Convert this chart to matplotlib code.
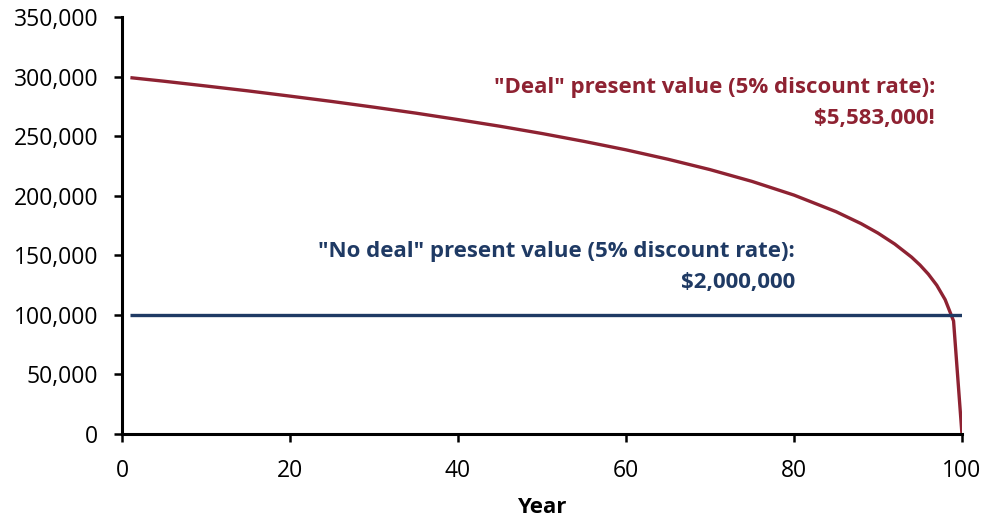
import matplotlib.pyplot as plt
from matplotlib.ticker import FuncFormatter

plt.rcParams['font.family'] = ['Open Sans', 'DejaVu Sans']

# yearly payment values
deal_years = [1, 5, 10, 15, 20, 25, 30, 35, 40, 45, 50, 55, 60, 65, 70, 75, 80,
              85, 88, 90, 92, 94, 95, 96, 97, 98, 99, 100]
deal_values = [299200, 296200, 292200, 288100, 283700, 279200, 274400, 269400,
               264000, 258400, 252300, 245700, 238600, 230700, 222000, 212100,
               200600, 186700, 176600, 168700, 159500, 148500, 141900, 134200,
               124900, 112800, 94900, 0]
nodeal_years = [1, 100]
nodeal_values = [100000, 100000]

red = "#8E2232"
blue = "#1F3A64"

fig = plt.figure(figsize=(9.84, 5.2), dpi=100)
ax = fig.add_axes([0.124, 0.1654, 0.8536, 0.8016])

ax.plot(deal_years, deal_values, color=red, lw=2.4, solid_capstyle="butt")
ax.plot(nodeal_years, nodeal_values, color=blue, lw=2.4, solid_capstyle="butt")

ax.set_xlim(0, 100)
ax.set_ylim(0, 350000)
ax.set_xticks(range(0, 101, 20))
ax.set_yticks(range(0, 350001, 50000))
ax.yaxis.set_major_formatter(FuncFormatter(lambda v, p: f"{int(v):,}"))

for s in ["top", "right"]:
    ax.spines[s].set_visible(False)
for s in ["left", "bottom"]:
    ax.spines[s].set_linewidth(2.2)
ax.tick_params(length=6, width=1.8, labelsize=16.5, color="black")
ax.tick_params(axis="y", pad=11)
ax.tick_params(axis="x", pad=12)
ax.set_xlabel("Year", fontsize=16, fontweight="bold", labelpad=10)

ax.text(96.8, 278000, '"Deal" present value (5% discount rate):\n$5,583,000!',
        color=red, fontsize=16, fontweight="bold", ha="right", va="center",
        linespacing=1.6)
ax.text(80.1, 140000, '"No deal" present value (5% discount rate):\n$2,000,000',
        color=blue, fontsize=16, fontweight="bold", ha="right", va="center",
        linespacing=1.6)

fig.savefig("out.png", dpi=100)
